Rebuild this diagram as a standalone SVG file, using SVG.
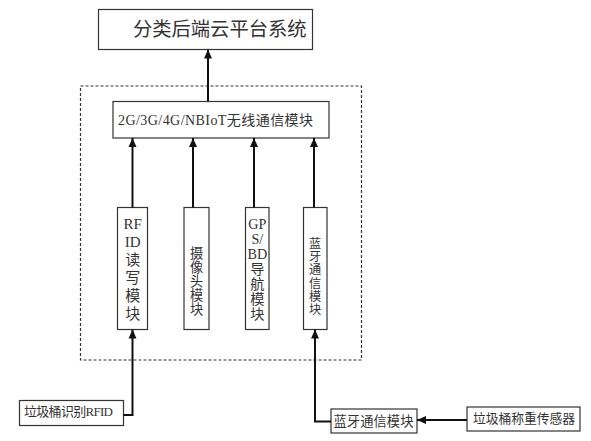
<svg xmlns="http://www.w3.org/2000/svg" width="591" height="441" viewBox="0 0 591 441">
<style>
.box{fill:#fff;stroke:#333;stroke-width:1.2}
.t{font-family:"Liberation Serif","Noto Sans CJK SC",serif;fill:#333;dominant-baseline:central}
.c{stroke:#111;stroke-width:2;fill:none}
</style>
<defs>
<marker id="ah" markerUnits="userSpaceOnUse" markerWidth="10" markerHeight="10" viewBox="0 0 10 10" refX="9" refY="5" orient="auto">
<path d="M0,1 L9,5 L0,9 Z" fill="#111"/>
</marker>
</defs>
<rect width="591" height="441" fill="#fff"/>
<rect id="group" x="80.5" y="86" width="281" height="274" fill="none" stroke="#333" stroke-width="1.2" stroke-dasharray="3,2"/>
<g id="cloud"><rect class="box" x="98.5" y="9.5" width="214" height="40"/><text class="t" x="133" y="29.5" font-size="19.3">分类后端云平台系统</text></g>
<g id="wireless"><rect class="box" x="113" y="101.5" width="216" height="36.5"/><text class="t" x="118" y="120" font-size="14" textLength="195">2G/3G/4G/NBIoT无线通信模块</text></g>
<g id="rfid"><rect class="box" x="117.5" y="207.5" width="30" height="122"/>
<text class="t" x="132.7" font-size="15" text-anchor="middle"><tspan x="132.7" y="224">RF</tspan><tspan x="132.7" y="242">ID</tspan><tspan x="132.7" y="260">读</tspan><tspan x="132.7" y="277.5">写</tspan><tspan x="132.7" y="296">模</tspan><tspan x="132.7" y="314">块</tspan></text></g>
<g id="camera"><rect class="box" x="184" y="207.5" width="25" height="122"/>
<text class="t" x="196.5" font-size="13.2" text-anchor="middle"><tspan x="196.5" y="253">摄</tspan><tspan x="196.5" y="267">像</tspan><tspan x="196.5" y="281">头</tspan><tspan x="196.5" y="295">模</tspan><tspan x="196.5" y="309">块</tspan></text></g>
<g id="gps"><rect class="box" x="245.5" y="207.5" width="23.5" height="122"/>
<text class="t" x="257.3" font-size="14.2" text-anchor="middle"><tspan x="257.3" y="224">GP</tspan><tspan x="257.3" y="238.5">S/</tspan><tspan x="257.3" y="253.5">BD</tspan><tspan x="257.3" y="268.5">导</tspan><tspan x="257.3" y="283.5">航</tspan><tspan x="257.3" y="298.5">模</tspan><tspan x="257.3" y="313.5">块</tspan></text></g>
<g id="bt"><rect class="box" x="303.5" y="207.5" width="23.5" height="122"/>
<text class="t" x="315.2" font-size="12.2" text-anchor="middle"><tspan x="315.2" y="243.5">蓝</tspan><tspan x="315.2" y="257">牙</tspan><tspan x="315.2" y="270.3">通</tspan><tspan x="315.2" y="283.6">信</tspan><tspan x="315.2" y="297">模</tspan><tspan x="315.2" y="310.3">块</tspan></text></g>
<g id="binrfid"><rect class="box" x="19.5" y="400.5" width="104" height="25"/><text class="t" x="24" y="411" font-size="13" textLength="89">垃圾桶识别RFID</text></g>
<g id="btmod"><rect class="box" x="331" y="409" width="86" height="24"/><text class="t" x="333.5" y="421" font-size="13.3" textLength="80">蓝牙通信模块</text></g>
<g id="weight"><rect class="box" x="467" y="407" width="113" height="24"/><text class="t" x="473" y="418.5" font-size="12.8" textLength="102">垃圾桶称重传感器</text></g>
<g id="connectors">
<path class="c" d="M208,101 V49.5" marker-end="url(#ah)"/>
<path class="c" d="M132.5,207.5 V138" marker-end="url(#ah)"/>
<path class="c" d="M193,207.5 V138" marker-end="url(#ah)"/>
<path class="c" d="M254,207.5 V138" marker-end="url(#ah)"/>
<path class="c" d="M314,207.5 V138" marker-end="url(#ah)"/>
<path class="c" d="M123.5,415 H132.5 V329.5" marker-end="url(#ah)"/>
<path class="c" d="M331,421.5 H315 V329.5" marker-end="url(#ah)"/>
<path class="c" d="M467,420 H417" marker-end="url(#ah)"/>
</g>
</svg>
